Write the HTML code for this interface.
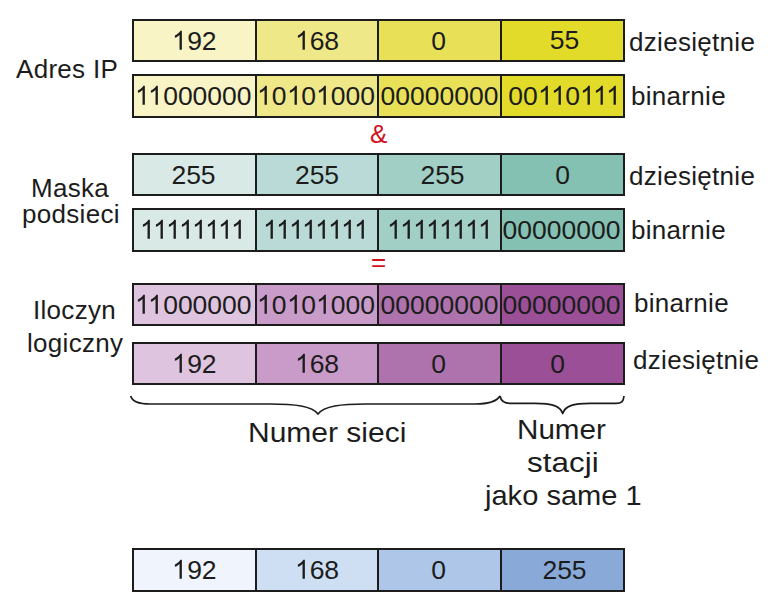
<!DOCTYPE html>
<html><head><meta charset="utf-8">
<style>
html,body{margin:0;padding:0;background:#fff;}
body{width:770px;height:610px;position:relative;overflow:hidden;font-family:"Liberation Sans",sans-serif;color:#1c1c1c;}
.row{position:absolute;left:132px;width:493px;height:43px;box-sizing:border-box;border:2px solid #1c1c1c;display:flex;}
.row div{box-sizing:border-box;height:100%;font-size:26.5px;text-align:center;line-height:39px;padding-top:1px;white-space:nowrap;}
.row div+div{border-left:2px solid #1c1c1c;}
.row span{position:relative;}
.c1{width:121px}.c2{width:122px}.c3{width:123px}.c4{flex:1}
.o{width:0.5562em;height:0.75em;fill:#1c1c1c;vertical-align:baseline;}
.k{margin-right:-0.066em;}
.lbl{position:absolute;font-size:26px;white-space:nowrap;line-height:30px;letter-spacing:0.3px;}
.y1{background:#f8f4c6}.y2{background:#efe889}.y3{background:#e8e158}.y4{background:#e2db2a}
.t1{background:#d8e9e6}.t2{background:#b9dad7}.t3{background:#a2cfc5}.t4{background:#85c1b2}
.p1{background:#dfc4df}.p2{background:#c99bc9}.p3{background:#ae72ac}.p4{background:#9a4f97}
.b1{background:#f0f4fc}.b2{background:#cedff3}.b3{background:#aec6e8}.b4{background:#89aad9}
.op{position:absolute;color:#d0111c;font-size:26px;line-height:30px;}
.dj{position:absolute;font-size:27.5px;white-space:nowrap;line-height:30px;transform-origin:0 0;}
</style></head><body>
<div class="lbl" style="left:16px;top:54px">Adres IP</div>
<div class="lbl" style="left:31px;top:173px">Maska</div>
<div class="lbl" style="left:22px;top:199px">podsieci</div>
<div class="lbl" style="left:33px;top:295px">Iloczyn</div>
<div class="lbl" style="left:27px;top:328px">logiczny</div>
<div class="lbl" style="left:629px;top:26.5px">dziesiętnie</div>
<div class="lbl" style="left:631px;top:80.5px">binarnie</div>
<div class="lbl" style="left:629px;top:160.5px">dziesiętnie</div>
<div class="lbl" style="left:631px;top:215px">binarnie</div>
<div class="lbl" style="left:634px;top:287.5px">binarnie</div>
<div class="lbl" style="left:633px;top:344.5px">dziesiętnie</div>
<div class="row" style="top:19px;height:43px"><div class="c1 y1"><span><svg class="o" viewBox="0 0 1139 1536"><path d="M763 1536H583V389Q518 451 412.5 513T223 606V432Q374 361 487 260T647 64H763Z"/></svg>92</span></div><div class="c2 y2"><span><svg class="o" viewBox="0 0 1139 1536"><path d="M763 1536H583V389Q518 451 412.5 513T223 606V432Q374 361 487 260T647 64H763Z"/></svg>68</span></div><div class="c3 y3"><span style="left:-1px;top:0px">0</span></div><div class="c4 y4"><span style="left:2px;top:-1px">55</span></div></div>
<div class="row" style="top:74px;height:44px"><div class="c1 y1"><span style="left:-1px;top:0px"><svg class="o k" viewBox="0 0 1139 1536"><path d="M763 1536H583V389Q518 451 412.5 513T223 606V432Q374 361 487 260T647 64H763Z"/></svg><svg class="o" viewBox="0 0 1139 1536"><path d="M763 1536H583V389Q518 451 412.5 513T223 606V432Q374 361 487 260T647 64H763Z"/></svg>000000</span></div><div class="c2 y2"><span style="left:-1px;top:0px"><svg class="o" viewBox="0 0 1139 1536"><path d="M763 1536H583V389Q518 451 412.5 513T223 606V432Q374 361 487 260T647 64H763Z"/></svg>0<svg class="o" viewBox="0 0 1139 1536"><path d="M763 1536H583V389Q518 451 412.5 513T223 606V432Q374 361 487 260T647 64H763Z"/></svg>0<svg class="o" viewBox="0 0 1139 1536"><path d="M763 1536H583V389Q518 451 412.5 513T223 606V432Q374 361 487 260T647 64H763Z"/></svg>000</span></div><div class="c3 y3"><span>00000000</span></div><div class="c4 y4"><span style="left:2px;top:0px">00<svg class="o k" viewBox="0 0 1139 1536"><path d="M763 1536H583V389Q518 451 412.5 513T223 606V432Q374 361 487 260T647 64H763Z"/></svg><svg class="o" viewBox="0 0 1139 1536"><path d="M763 1536H583V389Q518 451 412.5 513T223 606V432Q374 361 487 260T647 64H763Z"/></svg>0<svg class="o k" viewBox="0 0 1139 1536"><path d="M763 1536H583V389Q518 451 412.5 513T223 606V432Q374 361 487 260T647 64H763Z"/></svg><svg class="o k" viewBox="0 0 1139 1536"><path d="M763 1536H583V389Q518 451 412.5 513T223 606V432Q374 361 487 260T647 64H763Z"/></svg><svg class="o" viewBox="0 0 1139 1536"><path d="M763 1536H583V389Q518 451 412.5 513T223 606V432Q374 361 487 260T647 64H763Z"/></svg></span></div></div>
<div class="row" style="top:153px;height:43px"><div class="c1 t1"><span style="left:-1px;top:0px">255</span></div><div class="c2 t2"><span>255</span></div><div class="c3 t3"><span style="left:3px;top:0px">255</span></div><div class="c4 t4"><span>0</span></div></div>
<div class="row" style="top:208px;height:44px"><div class="c1 t1"><span style="left:-2px;top:0px"><svg class="o k" viewBox="0 0 1139 1536"><path d="M763 1536H583V389Q518 451 412.5 513T223 606V432Q374 361 487 260T647 64H763Z"/></svg><svg class="o k" viewBox="0 0 1139 1536"><path d="M763 1536H583V389Q518 451 412.5 513T223 606V432Q374 361 487 260T647 64H763Z"/></svg><svg class="o k" viewBox="0 0 1139 1536"><path d="M763 1536H583V389Q518 451 412.5 513T223 606V432Q374 361 487 260T647 64H763Z"/></svg><svg class="o k" viewBox="0 0 1139 1536"><path d="M763 1536H583V389Q518 451 412.5 513T223 606V432Q374 361 487 260T647 64H763Z"/></svg><svg class="o k" viewBox="0 0 1139 1536"><path d="M763 1536H583V389Q518 451 412.5 513T223 606V432Q374 361 487 260T647 64H763Z"/></svg><svg class="o k" viewBox="0 0 1139 1536"><path d="M763 1536H583V389Q518 451 412.5 513T223 606V432Q374 361 487 260T647 64H763Z"/></svg><svg class="o k" viewBox="0 0 1139 1536"><path d="M763 1536H583V389Q518 451 412.5 513T223 606V432Q374 361 487 260T647 64H763Z"/></svg><svg class="o" viewBox="0 0 1139 1536"><path d="M763 1536H583V389Q518 451 412.5 513T223 606V432Q374 361 487 260T647 64H763Z"/></svg></span></div><div class="c2 t2"><span style="left:-1px;top:0px"><svg class="o k" viewBox="0 0 1139 1536"><path d="M763 1536H583V389Q518 451 412.5 513T223 606V432Q374 361 487 260T647 64H763Z"/></svg><svg class="o k" viewBox="0 0 1139 1536"><path d="M763 1536H583V389Q518 451 412.5 513T223 606V432Q374 361 487 260T647 64H763Z"/></svg><svg class="o k" viewBox="0 0 1139 1536"><path d="M763 1536H583V389Q518 451 412.5 513T223 606V432Q374 361 487 260T647 64H763Z"/></svg><svg class="o k" viewBox="0 0 1139 1536"><path d="M763 1536H583V389Q518 451 412.5 513T223 606V432Q374 361 487 260T647 64H763Z"/></svg><svg class="o k" viewBox="0 0 1139 1536"><path d="M763 1536H583V389Q518 451 412.5 513T223 606V432Q374 361 487 260T647 64H763Z"/></svg><svg class="o k" viewBox="0 0 1139 1536"><path d="M763 1536H583V389Q518 451 412.5 513T223 606V432Q374 361 487 260T647 64H763Z"/></svg><svg class="o k" viewBox="0 0 1139 1536"><path d="M763 1536H583V389Q518 451 412.5 513T223 606V432Q374 361 487 260T647 64H763Z"/></svg><svg class="o" viewBox="0 0 1139 1536"><path d="M763 1536H583V389Q518 451 412.5 513T223 606V432Q374 361 487 260T647 64H763Z"/></svg></span></div><div class="c3 t3"><span><svg class="o k" viewBox="0 0 1139 1536"><path d="M763 1536H583V389Q518 451 412.5 513T223 606V432Q374 361 487 260T647 64H763Z"/></svg><svg class="o k" viewBox="0 0 1139 1536"><path d="M763 1536H583V389Q518 451 412.5 513T223 606V432Q374 361 487 260T647 64H763Z"/></svg><svg class="o k" viewBox="0 0 1139 1536"><path d="M763 1536H583V389Q518 451 412.5 513T223 606V432Q374 361 487 260T647 64H763Z"/></svg><svg class="o k" viewBox="0 0 1139 1536"><path d="M763 1536H583V389Q518 451 412.5 513T223 606V432Q374 361 487 260T647 64H763Z"/></svg><svg class="o k" viewBox="0 0 1139 1536"><path d="M763 1536H583V389Q518 451 412.5 513T223 606V432Q374 361 487 260T647 64H763Z"/></svg><svg class="o k" viewBox="0 0 1139 1536"><path d="M763 1536H583V389Q518 451 412.5 513T223 606V432Q374 361 487 260T647 64H763Z"/></svg><svg class="o k" viewBox="0 0 1139 1536"><path d="M763 1536H583V389Q518 451 412.5 513T223 606V432Q374 361 487 260T647 64H763Z"/></svg><svg class="o" viewBox="0 0 1139 1536"><path d="M763 1536H583V389Q518 451 412.5 513T223 606V432Q374 361 487 260T647 64H763Z"/></svg></span></div><div class="c4 t4"><span style="left:-1px;top:0px">00000000</span></div></div>
<div class="row" style="top:283px;height:43px"><div class="c1 p1"><span style="left:-1px;top:0px"><svg class="o k" viewBox="0 0 1139 1536"><path d="M763 1536H583V389Q518 451 412.5 513T223 606V432Q374 361 487 260T647 64H763Z"/></svg><svg class="o" viewBox="0 0 1139 1536"><path d="M763 1536H583V389Q518 451 412.5 513T223 606V432Q374 361 487 260T647 64H763Z"/></svg>000000</span></div><div class="c2 p2"><span style="left:-1px;top:0px"><svg class="o" viewBox="0 0 1139 1536"><path d="M763 1536H583V389Q518 451 412.5 513T223 606V432Q374 361 487 260T647 64H763Z"/></svg>0<svg class="o" viewBox="0 0 1139 1536"><path d="M763 1536H583V389Q518 451 412.5 513T223 606V432Q374 361 487 260T647 64H763Z"/></svg>0<svg class="o" viewBox="0 0 1139 1536"><path d="M763 1536H583V389Q518 451 412.5 513T223 606V432Q374 361 487 260T647 64H763Z"/></svg>000</span></div><div class="c3 p3"><span>00000000</span></div><div class="c4 p4"><span style="left:-1px;top:0px">00000000</span></div></div>
<div class="row" style="top:342px;height:43px"><div class="c1 p1"><span><svg class="o" viewBox="0 0 1139 1536"><path d="M763 1536H583V389Q518 451 412.5 513T223 606V432Q374 361 487 260T647 64H763Z"/></svg>92</span></div><div class="c2 p2"><span><svg class="o" viewBox="0 0 1139 1536"><path d="M763 1536H583V389Q518 451 412.5 513T223 606V432Q374 361 487 260T647 64H763Z"/></svg>68</span></div><div class="c3 p3"><span style="left:-1px;top:0px">0</span></div><div class="c4 p4"><span style="left:-5px;top:0px">0</span></div></div>
<div class="row" style="top:548px;height:44px"><div class="c1 b1"><span><svg class="o" viewBox="0 0 1139 1536"><path d="M763 1536H583V389Q518 451 412.5 513T223 606V432Q374 361 487 260T647 64H763Z"/></svg>92</span></div><div class="c2 b2"><span><svg class="o" viewBox="0 0 1139 1536"><path d="M763 1536H583V389Q518 451 412.5 513T223 606V432Q374 361 487 260T647 64H763Z"/></svg>68</span></div><div class="c3 b3"><span style="left:-1px;top:0px">0</span></div><div class="c4 b4"><span style="left:2px;top:0px">255</span></div></div>
<div class="op" style="left:370px;top:119px">&amp;</div>
<div class="op" style="left:371px;top:247px">=</div>
<svg style="position:absolute;left:0;top:0" width="770" height="610">
<g fill="none" stroke="#1c1c1c" stroke-width="1.7" stroke-linejoin="round">
<path d="M130.7 396 C132 401 138 404 150 404 L270 404 C295 404 312 406 318 414 C324 406 341 404 366 404 L475 404 C490 404 497 401 500 396"/>
<path d="M500 396 C501 401 504 403.4 510 403.4 L535 403.4 C552 403.4 560.5 406 562.7 413.6 C565 406 573 403.4 590 403.4 L616 403.4 C622 403.4 623.5 401 624 396"/>
</g>
</svg>
<div class="dj" style="left:247.5px;top:418px;transform:scaleX(1.091)">Numer sieci</div>
<div class="dj" style="left:516.8px;top:415px;transform:scaleX(1.077)">Numer</div>
<div class="dj" style="left:526.7px;top:448px;transform:scaleX(1.143)">stacji</div>
<div class="dj" style="left:484.5px;top:481px;transform:scaleX(1.057)">jako same 1</div>
</body></html>
